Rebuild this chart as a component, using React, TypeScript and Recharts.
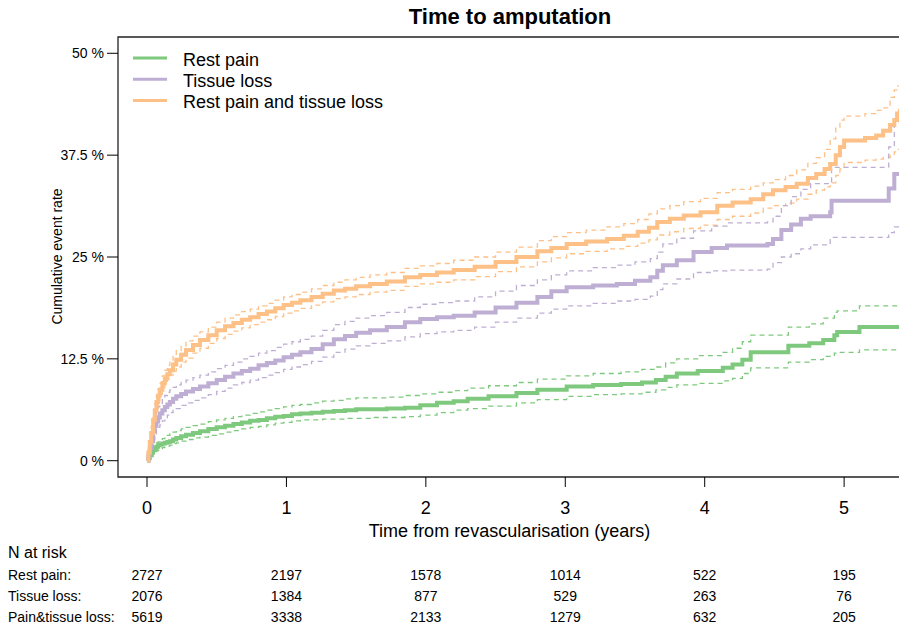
import React from 'react';
import { LineChart, Line, XAxis, YAxis, ReferenceArea, Legend } from 'recharts';

// ---- axis ticks & at-risk table ----
const years = [0, 1, 2, 3, 4, 5];
const yTicks = [0, 12.5, 25, 37.5, 50];
const riskRestPain = [2727, 2197, 1578, 1014, 522, 195];
const riskTissueLoss = [2076, 1384, 877, 529, 263, 76];
const riskBoth = [5619, 3338, 2133, 1279, 632, 205];
const riskRowLabels = ['Rest pain:', 'Tissue loss:', 'Pain&tissue loss:'];

// ---- shared early time points (years) ----
const earlyTime = [0, 0.01, 0.02, 0.03, 0.044, 0.056, 0.068, 0.08, 0.092, 0.11, 0.128, 0.146, 0.164, 0.187, 0.21, 0.245, 0.28, 0.33, 0.38, 0.44, 0.5, 0.56, 0.62, 0.68, 0.74, 0.8, 0.86, 0.92, 0.98, 1.04, 1.1, 1.18, 1.26, 1.34, 1.42, 1.5, 1.6, 1.72, 1.85, 1.96, 2.08, 2.2];

// ---- Rest pain (%) ----
const restEarlyEst = [0, 0.3, 0.7, 1.0, 1.3, 1.5, 1.7, 1.9, 2.0, 2.1, 2.2, 2.3, 2.4, 2.6, 2.8, 3.0, 3.2, 3.4, 3.6, 3.9, 4.1, 4.3, 4.5, 4.7, 4.9, 5.0, 5.2, 5.4, 5.5, 5.7, 5.8, 5.9, 6.0, 6.1, 6.2, 6.3, 6.3, 6.4, 6.5, 6.8, 7.1, 7.3];
const restEarlyHi = [0, 0.6, 1.1, 1.5, 1.8, 2.0, 2.2, 2.3, 2.5, 2.7, 2.9, 3.1, 3.3, 3.5, 3.7, 3.9, 4.1, 4.3, 4.5, 4.8, 5.0, 5.2, 5.4, 5.6, 5.8, 6.0, 6.2, 6.4, 6.6, 6.8, 6.9, 7.1, 7.3, 7.4, 7.6, 7.7, 7.7, 7.8, 8.0, 8.2, 8.4, 8.6];
const restEarlyLo = [0, 0.1, 0.3, 0.5, 0.8, 1.0, 1.2, 1.3, 1.5, 1.6, 1.7, 1.8, 1.9, 2.1, 2.2, 2.4, 2.6, 2.8, 2.9, 3.1, 3.3, 3.5, 3.7, 3.9, 4.1, 4.2, 4.4, 4.6, 4.7, 4.9, 5.0, 5.0, 5.1, 5.1, 5.2, 5.2, 5.3, 5.3, 5.4, 5.6, 5.9, 6.2];
const restLateTime = [2.3, 2.45, 2.65, 2.8, 3.01, 3.2, 3.4, 3.55, 3.65, 3.72, 3.8, 3.95, 4.13, 4.2, 4.27, 4.33, 4.57, 4.6, 4.75, 4.85, 4.93, 4.95, 5.1, 5.11, 5.4];
const restLateEst = [7.6, 7.9, 8.3, 8.7, 9.1, 9.3, 9.4, 9.6, 9.9, 10.3, 10.7, 11.0, 11.4, 11.8, 12.4, 13.3, 13.3, 14.1, 14.4, 14.8, 15.4, 15.8, 15.8, 16.4, 16.4];
const restLateHi = [8.9, 9.2, 9.6, 10.0, 10.4, 10.7, 10.9, 11.2, 11.5, 12.0, 12.5, 12.9, 13.3, 13.8, 14.6, 15.4, 15.4, 16.4, 16.8, 17.5, 18.2, 18.4, 18.4, 19.0, 19.0];
const restLateLo = [6.4, 6.7, 7.1, 7.5, 7.9, 8.1, 8.2, 8.4, 8.7, 9.0, 9.3, 9.5, 9.8, 10.1, 10.7, 11.4, 11.4, 12.1, 12.4, 12.8, 13.2, 13.3, 13.3, 13.6, 13.6];

// ---- Tissue loss (%) ----
const tissueEarlyEst = [0, 0.6, 1.5, 2.4, 3.6, 4.3, 4.8, 5.3, 5.8, 6.2, 6.6, 6.9, 7.2, 7.6, 7.9, 8.2, 8.5, 8.8, 9.1, 9.5, 9.9, 10.3, 10.7, 11.0, 11.3, 11.7, 12.0, 12.3, 12.7, 13.0, 13.3, 13.7, 14.3, 14.9, 15.3, 15.7, 16.0, 16.4, 17.0, 17.4, 17.6, 17.8];
const tissueEarlyHi = [0, 1.0, 2.2, 3.4, 4.7, 5.5, 6.1, 6.6, 7.0, 7.6, 8.0, 8.4, 8.7, 9.0, 9.3, 9.6, 9.9, 10.2, 10.5, 10.9, 11.3, 11.7, 12.1, 12.5, 12.8, 13.2, 13.5, 13.9, 14.3, 14.6, 14.9, 15.3, 16.0, 16.7, 17.1, 17.5, 17.8, 18.2, 18.8, 19.2, 19.4, 19.6];
const tissueEarlyLo = [0, 0.3, 0.9, 1.6, 2.6, 3.3, 3.8, 4.1, 4.4, 4.9, 5.3, 5.6, 5.9, 6.2, 6.4, 6.8, 7.1, 7.4, 7.7, 8.1, 8.5, 8.9, 9.3, 9.6, 9.9, 10.2, 10.5, 10.8, 11.2, 11.5, 11.8, 12.2, 12.7, 13.3, 13.7, 14.1, 14.4, 14.7, 15.2, 15.6, 15.8, 16.0];
const tissueLateTime = [2.35, 2.5, 2.65, 2.8, 2.9, 3.01, 3.2, 3.37, 3.5, 3.61, 3.66, 3.7, 3.8, 3.92, 4.05, 4.16, 4.45, 4.49, 4.55, 4.62, 4.69, 4.76, 4.9, 4.91, 5.31, 5.32, 5.36, 5.4];
const tissueLateEst = [18.2, 18.8, 19.4, 20.1, 20.8, 21.3, 21.5, 21.7, 22.1, 22.5, 23.3, 24.0, 24.6, 25.6, 26.1, 26.4, 26.6, 27.2, 28.3, 29.0, 29.7, 30.0, 30.5, 31.9, 31.9, 33.4, 35.2, 35.2];
const tissueLateHi = [20.1, 20.8, 21.5, 22.2, 22.8, 23.3, 23.7, 24.0, 24.4, 24.8, 25.6, 26.6, 27.3, 28.2, 28.8, 29.2, 29.3, 30.0, 31.3, 32.4, 33.3, 34.0, 34.2, 36.0, 36.0, 38.5, 41.4, 41.4];
const tissueLateLo = [16.4, 17.0, 17.5, 18.1, 18.6, 19.0, 19.3, 19.6, 19.8, 20.2, 21.0, 21.7, 22.3, 23.1, 23.3, 23.4, 23.5, 24.3, 25.0, 25.4, 26.0, 26.5, 27.4, 27.4, 27.4, 28.0, 28.7, 28.7];

// ---- Rest pain and tissue loss (%) ----
const bothEarlyEst = [0, 1.0, 2.3, 3.4, 5.0, 6.2, 7.2, 8.0, 8.7, 9.5, 10.1, 10.6, 11.1, 11.8, 12.4, 13.0, 13.6, 14.2, 14.8, 15.4, 16.0, 16.5, 16.9, 17.3, 17.6, 18.0, 18.3, 18.7, 19.1, 19.4, 19.7, 20.1, 20.5, 20.9, 21.1, 21.4, 21.7, 22.0, 22.5, 22.8, 23.1, 23.4];
const bothEarlyHi = [0, 1.4, 2.9, 4.2, 5.8, 7.0, 8.0, 8.8, 9.5, 10.4, 11.1, 11.7, 12.2, 12.9, 13.5, 14.1, 14.7, 15.3, 15.8, 16.4, 17.0, 17.5, 17.9, 18.3, 18.6, 19.0, 19.3, 19.7, 20.1, 20.4, 20.7, 21.1, 21.5, 21.9, 22.2, 22.5, 22.8, 23.1, 23.6, 23.9, 24.2, 24.6];
const bothEarlyLo = [0, 0.7, 1.8, 2.8, 4.3, 5.5, 6.5, 7.3, 8.0, 8.8, 9.4, 10.0, 10.5, 11.0, 11.5, 12.1, 12.6, 13.2, 13.8, 14.4, 15.0, 15.5, 15.9, 16.3, 16.7, 17.0, 17.3, 17.7, 18.1, 18.4, 18.7, 19.1, 19.5, 19.9, 20.1, 20.4, 20.7, 20.9, 21.4, 21.7, 21.9, 22.2];
const bothLateTime = [2.35, 2.5, 2.65, 2.8, 2.9, 3.01, 3.15, 3.3, 3.42, 3.52, 3.6, 3.66, 3.75, 3.85, 3.97, 4.09, 4.2, 4.33, 4.42, 4.49, 4.58, 4.66, 4.74, 4.8, 4.86, 4.9, 4.94, 4.97, 5.0, 5.15, 5.23, 5.28, 5.33, 5.36, 5.38, 5.4];
const bothLateEst = [23.8, 24.4, 25.0, 25.7, 26.1, 26.6, 26.9, 27.2, 27.6, 28.1, 28.6, 29.3, 29.7, 30.1, 30.5, 31.3, 31.7, 32.1, 32.7, 33.2, 33.6, 34.0, 34.7, 35.2, 35.8, 36.4, 37.5, 38.5, 39.3, 39.6, 39.9, 40.5, 41.2, 41.8, 42.6, 43.2];
const bothLateHi = [25.0, 25.6, 26.2, 27.0, 27.5, 28.0, 28.3, 28.7, 29.1, 29.6, 30.3, 30.9, 31.3, 31.8, 32.2, 32.9, 33.3, 33.7, 34.1, 34.5, 35.0, 35.7, 36.5, 37.2, 38.2, 39.5, 40.8, 41.8, 42.3, 42.6, 43.0, 43.3, 44.6, 45.5, 46.0, 46.3];
const bothLateLo = [22.6, 23.2, 23.8, 24.4, 24.9, 25.4, 25.7, 26.0, 26.3, 26.7, 27.1, 27.7, 28.1, 28.5, 28.9, 29.6, 30.0, 30.4, 31.0, 31.3, 31.6, 32.1, 32.7, 33.2, 33.6, 34.1, 35.0, 35.8, 36.6, 36.9, 37.0, 37.2, 37.5, 37.9, 38.2, 38.5];

const GREEN = '#7FC97F';
const PURPLE = '#BEAED4';
const ORANGE = '#FDC086';
const FONT = '"Liberation Sans", Arial, Helvetica, sans-serif';

const build = (t: number[], est: number[], lo: number[], hi: number[]) =>
  t.map((v, i) => ({ t: v, est: est[i], lo: lo[i], hi: hi[i] }));

const restData = build(
  [...earlyTime, ...restLateTime],
  [...restEarlyEst, ...restLateEst],
  [...restEarlyLo, ...restLateLo],
  [...restEarlyHi, ...restLateHi]
);
const tissueData = build(
  [...earlyTime, ...tissueLateTime],
  [...tissueEarlyEst, ...tissueLateEst],
  [...tissueEarlyLo, ...tissueLateLo],
  [...tissueEarlyHi, ...tissueLateHi]
);
const bothData = build(
  [...earlyTime, ...bothLateTime],
  [...bothEarlyEst, ...bothLateEst],
  [...bothEarlyLo, ...bothLateLo],
  [...bothEarlyHi, ...bothLateHi]
);

const groups = [
  { name: 'Rest pain', color: GREEN, data: restData },
  { name: 'Tissue loss', color: PURPLE, data: tissueData },
  { name: 'Rest pain and tissue loss', color: ORANGE, data: bothData },
];

const riskRows = [riskRestPain, riskTissueLoss, riskBoth];

const XTick = (props: any) => {
  const { x, y, payload } = props;
  const i = years.indexOf(payload.value);
  return (
    <g>
      <text x={x} y={y + 27} textAnchor="middle" fontSize={18} fill="#000" fontFamily={FONT}>
        {payload.value}
      </text>
      {riskRows.map((row, r) => (
        <text key={r} x={x} y={y + 93 + r * 21.2} textAnchor="middle" fontSize={14} fill="#000" fontFamily={FONT}>
          {row[i]}
        </text>
      ))}
    </g>
  );
};

const renderLegend = () => (
  <svg width={300} height={70} style={{ display: 'block' }}>
    {groups.map((g, i) => (
      <g key={g.name}>
        <line x1={0} x2={34} y1={9 + i * 21.3} y2={9 + i * 21.3} stroke={g.color} strokeWidth={3} />
        <text x={50} y={16.5 + i * 21.3} fontSize={18} fill="#000" fontFamily={FONT}>
          {g.name}
        </text>
      </g>
    ))}
  </svg>
);

export default function App() {
  return (
    <div style={{ position: 'absolute', left: 0, top: 0, width: 899, height: 628, overflow: 'hidden', background: '#fff', fontFamily: FONT }}>
      <LineChart width={903} height={628} margin={{ top: 37, right: 2, bottom: 0, left: 0 }}>
        <XAxis
          xAxisId="x"
          dataKey="t"
          type="number"
          domain={[-0.208, 5.408]}
          allowDataOverflow
          ticks={years}
          interval={0}
          height={151}
          axisLine={false}
          tickLine={{ stroke: '#000', strokeWidth: 1 }}
          tickSize={10}
          tickMargin={0}
          tick={<XTick />}
        />
        <YAxis
          yAxisId="y"
          type="number"
          domain={[-2, 52]}
          allowDataOverflow
          ticks={yTicks}
          interval={0}
          width={118}
          axisLine={false}
          tickLine={{ stroke: '#000', strokeWidth: 1 }}
          tickSize={11}
          tickMargin={3}
          tickFormatter={(v: number) => `${v} %`}
          tick={{ fontSize: 14, fill: '#000', fontFamily: FONT }}
        />
        <ReferenceArea
          xAxisId="x"
          yAxisId="y"
          x1={-0.208}
          x2={5.408}
          y1={-2}
          y2={52}
          fill="none"
          fillOpacity={0}
          stroke="#222"
          strokeWidth={1.3}
          ifOverflow="visible"
        />
        {groups.map((g) => (
          <Line
            key={g.name + '-lo'}
            xAxisId="x"
            yAxisId="y"
            data={g.data}
            dataKey="lo"
            type="stepAfter"
            stroke={g.color}
            strokeWidth={1.3}
            strokeDasharray="5 4"
            dot={false}
            activeDot={false}
            legendType="none"
            isAnimationActive={false}
          />
        ))}
        {groups.map((g) => (
          <Line
            key={g.name + '-hi'}
            xAxisId="x"
            yAxisId="y"
            data={g.data}
            dataKey="hi"
            type="stepAfter"
            stroke={g.color}
            strokeWidth={1.3}
            strokeDasharray="5 4"
            dot={false}
            activeDot={false}
            legendType="none"
            isAnimationActive={false}
          />
        ))}
        {groups.map((g) => (
          <Line
            key={g.name}
            name={g.name}
            xAxisId="x"
            yAxisId="y"
            data={g.data}
            dataKey="est"
            type="stepAfter"
            stroke={g.color}
            strokeWidth={4}
            dot={false}
            activeDot={false}
            isAnimationActive={false}
          />
        ))}
        <Legend
          layout="vertical"
          align="center"
          verticalAlign="middle"
          content={renderLegend}
          wrapperStyle={{ position: 'absolute', left: 133, top: 49, width: 300, height: 70 }}
        />
      </LineChart>
      <svg
        width={899}
        height={628}
        style={{ position: 'absolute', left: 0, top: 0, pointerEvents: 'none' }}
      >
        <text x={510} y={24.3} textAnchor="middle" fontSize={22} fontWeight="bold" fill="#000" fontFamily={FONT}>
          Time to amputation
        </text>
        <text
          x={61.5}
          y={256.5}
          transform="rotate(-90, 61.5, 256.5)"
          textAnchor="middle"
          fontSize={14}
          fill="#000"
          fontFamily={FONT}
        >
          Cumulative event rate
        </text>
        <text x={509.5} y={537} textAnchor="middle" fontSize={18} fill="#000" fontFamily={FONT}>
          Time from revascularisation (years)
        </text>
        <text x={8} y={558.3} fontSize={16} fill="#000" fontFamily={FONT}>
          N at risk
        </text>
        {riskRowLabels.map((l, r) => (
          <text key={l} x={8} y={580 + r * 21.2} fontSize={14} fill="#000" fontFamily={FONT}>
            {l}
          </text>
        ))}
      </svg>
    </div>
  );
}
